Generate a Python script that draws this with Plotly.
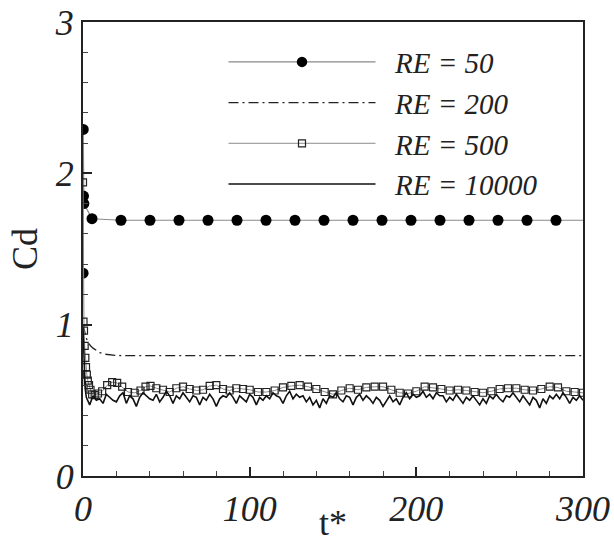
import plotly.graph_objects as go

# ---------------- data ----------------
t50 = [0.05, 0.15, 0.3, 0.5, 5.4, 22.8, 40.2, 57.6, 75, 92.4, 109.8, 127.2, 144.6,
       162, 179.4, 196.8, 214.2, 231.6, 249, 266.4, 283.8, 300]
cd50 = [1.34, 2.29, 1.85, 1.80, 1.70, 1.69, 1.69, 1.69, 1.69, 1.69, 1.69, 1.69, 1.69,
        1.69, 1.69, 1.69, 1.69, 1.69, 1.69, 1.69, 1.69, 1.69]

t200 = [0, 1, 2, 3, 4.5, 6, 8, 10, 13, 16, 20, 25, 30, 300]
cd200 = [1.00, 0.95, 0.91, 0.885, 0.86, 0.845, 0.83, 0.815, 0.805, 0.80, 0.797, 0.795, 0.795, 0.795]

t500 = [0, 0.3, 0.6, 1.0, 1.4, 1.8, 2.3, 2.9, 3.6, 4.5,
        5.5, 7, 9, 11.5, 14.5, 17.5, 20.5, 23.5, 27, 31,
        34.5, 37.5, 40.5, 44, 48, 52, 56, 60, 64, 68,
        72, 76, 80, 84, 88, 92, 96, 100, 105, 110,
        115, 120, 125, 130, 135, 140, 145, 150, 155, 160,
        165, 170, 175, 180, 185, 190, 195, 200, 205, 210,
        215, 220, 225, 230, 235, 240, 245, 250, 255, 260,
        265, 270, 275, 280, 285, 290, 295, 300]
cd500 = [1.94, 1.02, 0.96, 0.86, 0.78, 0.72, 0.67, 0.63, 0.60, 0.57,
         0.54, 0.535, 0.545, 0.56, 0.60, 0.62, 0.615, 0.59, 0.555, 0.55,
         0.565, 0.59, 0.595, 0.58, 0.57, 0.555, 0.58, 0.59, 0.575, 0.565,
         0.57, 0.595, 0.60, 0.575, 0.565, 0.58, 0.575, 0.57, 0.555, 0.555,
         0.565, 0.585, 0.595, 0.60, 0.59, 0.575, 0.555, 0.54, 0.565, 0.58,
         0.57, 0.585, 0.59, 0.59, 0.57, 0.55, 0.545, 0.56, 0.59, 0.585,
         0.575, 0.565, 0.57, 0.565, 0.555, 0.55, 0.56, 0.575, 0.58, 0.58,
         0.57, 0.565, 0.575, 0.59, 0.585, 0.56, 0.555, 0.55]

t10k_start = [0, 0.4, 0.8, 1.3, 2.0, 3.0]
t10k_grid = list(range(4, 301, 2))
t10k = t10k_start + t10k_grid
cd10k = [0.98, 0.80, 0.66, 0.58, 0.52, 0.50,
         0.47, 0.53, 0.50, 0.51, 0.48, 0.54, 0.52, 0.50, 0.49, 0.53,
         0.55, 0.48, 0.53, 0.51, 0.46, 0.52, 0.55, 0.53, 0.51, 0.50,
         0.54, 0.49, 0.52, 0.56, 0.53, 0.48, 0.53, 0.51, 0.55, 0.52,
         0.49, 0.53, 0.52, 0.47, 0.52, 0.50, 0.54, 0.51, 0.46, 0.51,
         0.53, 0.52, 0.55, 0.52, 0.48, 0.53, 0.51, 0.49, 0.54, 0.52,
         0.47, 0.52, 0.50, 0.53, 0.51, 0.55, 0.53, 0.52, 0.48, 0.53,
         0.56, 0.51, 0.54, 0.52, 0.53, 0.49, 0.52, 0.47, 0.50, 0.45,
         0.51, 0.48, 0.53, 0.52, 0.55, 0.51, 0.49, 0.53, 0.52, 0.47,
         0.52, 0.54, 0.50, 0.53, 0.51, 0.48, 0.52, 0.50, 0.46, 0.50,
         0.53, 0.49, 0.51, 0.47, 0.52, 0.55, 0.51, 0.54, 0.52, 0.53,
         0.56, 0.52, 0.54, 0.51, 0.55, 0.53, 0.53, 0.49, 0.52, 0.50,
         0.54, 0.51, 0.48, 0.52, 0.50, 0.53, 0.50, 0.47, 0.51, 0.48,
         0.53, 0.51, 0.54, 0.51, 0.49, 0.53, 0.52, 0.55, 0.52, 0.49,
         0.53, 0.50, 0.47, 0.52, 0.50, 0.45, 0.51, 0.48, 0.53, 0.51,
         0.54, 0.51, 0.55, 0.52, 0.48, 0.52, 0.50, 0.53, 0.50]

x_ticks = [0, 100, 200, 300]
y_ticks = [0, 1, 2, 3]
names = ["RE = 50", "RE = 200", "RE = 500", "RE = 10000"]

assert len(t500) == len(cd500)
assert len(t10k) == len(cd10k)

SERIF = "Liberation Serif, Times New Roman, serif"
PAD = "\u00a0\u00a0"

fig = go.Figure()

sizes50 = [11] * (len(t50) - 1) + [0]
fig.add_trace(go.Scatter(
    x=t50, y=cd50, name=PAD + names[0], mode="lines+markers",
    line=dict(color="#8a8a8a", width=1.2),
    marker=dict(symbol="circle", size=sizes50, color="#000000", opacity=1,
                line=dict(width=0)),
))
fig.add_trace(go.Scatter(
    x=t200, y=cd200, name=PAD + names[1], mode="lines",
    line=dict(color="#222222", width=1.3, dash="10px,4px,2px,4px"),
))
fig.add_trace(go.Scatter(
    x=t500, y=cd500, name=PAD + names[2], mode="lines+markers",
    line=dict(color="#8a8a8a", width=1.0),
    marker=dict(symbol="square-open", size=7, color="#222222", line=dict(width=1.2)),
))
fig.add_trace(go.Scatter(
    x=t10k, y=cd10k, name=PAD + names[3], mode="lines",
    line=dict(color="#111111", width=1.6),
))

axis_common = dict(
    showgrid=False, zeroline=False, showline=True, linecolor="#222222", linewidth=2,
    mirror=True, ticks="inside", tickcolor="#222222", tickwidth=1.5, ticklen=9,
    tickfont=dict(family=SERIF, size=36, color="#222222", style="italic"),
)

fig.update_xaxes(
    range=[0, 300], tickvals=x_ticks, ticktext=[str(v) for v in x_ticks],
    minor=dict(ticks="inside", dtick=20, ticklen=5, tickwidth=1, tickcolor="#444444"),
    title=dict(text="t*", font=dict(family=SERIF, size=36, color="#222222"), standoff=4),
    **axis_common,
)
fig.update_yaxes(
    range=[0, 3], tickvals=y_ticks, ticktext=[str(v) for v in y_ticks],
    minor=dict(ticks="inside", dtick=0.2, ticklen=5, tickwidth=1, tickcolor="#444444"),
    title=dict(text="Cd", font=dict(family=SERIF, size=36, color="#222222"), standoff=6),
    **axis_common,
)

fig.update_layout(
    width=614, height=543,
    margin=dict(l=83, r=31, t=22, b=67, autoexpand=False),
    plot_bgcolor="white", paper_bgcolor="white",
    showlegend=True,
    legend=dict(
        x=0.281, y=0.968, xanchor="left", yanchor="top",
        bgcolor="rgba(0,0,0,0)", borderwidth=0,
        font=dict(family=SERIF, size=29, color="#222222", style="italic"),
        itemwidth=147, tracegroupgap=0,
    ),
)

fig.write_html("out.html")
